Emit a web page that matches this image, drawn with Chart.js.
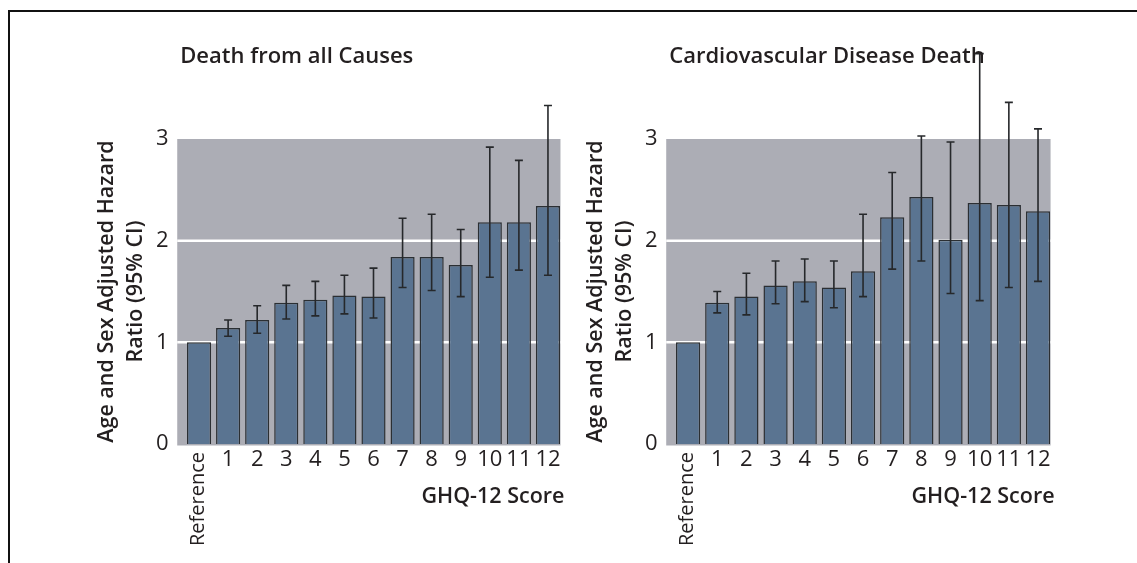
<!DOCTYPE html>
<html>
<head>
<meta charset="utf-8">
<script src="https://cdn.jsdelivr.net/npm/chart.js@4.4.1/dist/chart.umd.min.js"></script>
<style>
  html,body{margin:0;padding:0;background:#fff;width:1137px;height:563px;overflow:hidden;}
  #frame{position:absolute;left:8px;top:10px;width:1200px;height:600px;border-left:2px solid #111;border-top:2px solid #111;}
  canvas{position:absolute;left:0;top:0;}
</style>
</head>
<body>
<div id="frame"></div>
<canvas id="allCauses" width="1137" height="563"></canvas>
<canvas id="cvd" width="1137" height="563"></canvas>
<script>
  // --- data ---
  const scoreLabels = ['Reference','1','2','3','4','5','6','7','8','9','10','11','12'];
  const yTickValues = [0, 1, 2, 3];

  // Death from all causes
  const allHR   = [1.00, 1.14, 1.22, 1.39, 1.42, 1.46, 1.45, 1.84, 1.84, 1.76, 2.18, 2.18, 2.34];
  const allLow  = [null, 1.06, 1.09, 1.23, 1.26, 1.28, 1.24, 1.54, 1.51, 1.45, 1.64, 1.71, 1.66];
  const allHigh = [null, 1.22, 1.36, 1.56, 1.60, 1.66, 1.73, 2.22, 2.26, 2.11, 2.92, 2.79, 3.33];

  // Cardiovascular disease death
  const cvdHR   = [1.00, 1.39, 1.45, 1.56, 1.60, 1.54, 1.70, 2.23, 2.43, 2.01, 2.37, 2.35, 2.29];
  const cvdLow  = [null, 1.29, 1.27, 1.38, 1.40, 1.34, 1.45, 1.72, 1.80, 1.48, 1.41, 1.54, 1.60];
  const cvdHigh = [null, 1.50, 1.68, 1.80, 1.82, 1.80, 2.26, 2.67, 3.03, 2.97, 3.84, 3.36, 3.10];

  const FONT = '"Open Sans", "Noto Sans", sans-serif';
  const TEXT = '#231f20';

  // gray panel + white gridlines behind the bars
  const panelBg = {
    id: 'panelBg',
    beforeDatasetsDraw(chart){
      const {ctx, scales:{x, y}} = chart;
      const cw = x.getPixelForValue(1) - x.getPixelForValue(0);
      const left = x.getPixelForValue(0) - 0.75*cw;
      const right = x.getPixelForValue(scoreLabels.length-1) + 0.43*cw;
      const top = y.getPixelForValue(3), bottom = y.getPixelForValue(0) + 1.5;
      ctx.save();
      ctx.fillStyle = '#acadb5';
      ctx.fillRect(left, top, right-left, bottom-top);
      ctx.strokeStyle = '#ffffff'; ctx.lineWidth = 2.5;
      [1,2].forEach(v=>{
        const py = y.getPixelForValue(v);
        ctx.beginPath(); ctx.moveTo(left, py); ctx.lineTo(right, py); ctx.stroke();
      });
      ctx.restore();
    }
  };

  // 95% CI whiskers
  const ciBars = {
    id: 'ciBars',
    afterDatasetsDraw(chart, args, opts){
      const {ctx, scales:{y}} = chart;
      const meta = chart.getDatasetMeta(0);
      ctx.save();
      ctx.strokeStyle = '#26282b'; ctx.lineWidth = 1.6;
      meta.data.forEach((bar, i)=>{
        const lo = opts.low[i], hi = opts.high[i];
        if(lo==null || hi==null) return;
        const yl = y.getPixelForValue(lo), yh = y.getPixelForValue(hi);
        ctx.beginPath();
        ctx.moveTo(bar.x, yl); ctx.lineTo(bar.x, yh);
        ctx.moveTo(bar.x-4, yl); ctx.lineTo(bar.x+4, yl);
        ctx.moveTo(bar.x-4, yh); ctx.lineTo(bar.x+4, yh);
        ctx.stroke();
      });
      ctx.restore();
    }
  };

  // category labels (Reference rotated), x title and panel title
  const panelText = {
    id: 'panelText',
    afterDraw(chart, args, opts){
      const {ctx, scales:{x, y}} = chart;
      const cw = x.getPixelForValue(1) - x.getPixelForValue(0);
      const left = x.getPixelForValue(0) - 0.75*cw;
      const right = x.getPixelForValue(scoreLabels.length-1) + 0.43*cw;
      const base = y.getPixelForValue(0);
      ctx.save();
      ctx.fillStyle = TEXT;
      ctx.textBaseline = 'middle';
      scoreLabels.forEach((lab, i)=>{
        const px = x.getPixelForValue(i);
        if(i===0){
          ctx.save();
          ctx.font = '400 20px ' + FONT;
          ctx.translate(px-1, base+8);
          ctx.rotate(-Math.PI/2);
          ctx.textAlign = 'right';
          ctx.fillText(lab, 0, 0);
          ctx.restore();
        } else {
          ctx.font = '400 22px ' + FONT;
          ctx.textAlign = 'center';
          ctx.fillText(lab, px, base+16);
        }
      });
      ctx.font = '600 21.5px ' + FONT;
      ctx.textAlign = 'right';
      ctx.fillText('GHQ-12 Score', right+4, base+53);
      ctx.font = '600 22px ' + FONT;
      ctx.textAlign = 'left';
      ctx.fillText(opts.title, left+3, 57);
      ctx.restore();
    }
  };

  function makeChart(id, title, hr, low, high, padLeft, padRight){
    return new Chart(document.getElementById(id), {
      type: 'bar',
      data: {
        labels: scoreLabels,
        datasets: [{ data: hr, backgroundColor: '#5a7491', borderColor: '#2b2f33', borderWidth: 1.5,
          barPercentage: 0.83, categoryPercentage: 1 }]
      },
      options: {
        responsive: false, animation: false,
        layout: { padding: { left: padLeft, right: padRight, top: 139, bottom: 119 } },
        plugins: { legend: { display: false }, tooltip: { enabled: false },
          ciBars: { low, high }, panelText: { title } },
        scales: {
          x: { display: false, offset: true },
          y: {
            min: 0, max: 3,
            afterFit(scale){ scale.width = 92; },
            afterBuildTicks(scale){ scale.ticks = yTickValues.map(v=>({ value: v })); },
            grid: { display: false, drawTicks: false },
            border: { display: false },
            ticks: { padding: 16, color: TEXT, font: { family: FONT, size: 22, weight: '400' } },
            title: { display: true, text: ['Age and Sex Adjusted Hazard', 'Ratio (95% CI)'],
              color: TEXT, padding: 0, font: { family: FONT, size: 21.5, weight: '600', lineHeight: 1.35 } }
          }
        }
      },
      plugins: [panelBg, ciBars, panelText]
    });
  }

  makeChart('allCauses', 'Death from all Causes', allHR, allLow, allHigh, 92.5, 1137-562.5);
  makeChart('cvd', 'Cardiovascular Disease Death', cvdHR, cvdLow, cvdHigh, 581.5, 1137-1052.6);
</script>
</body>
</html>
